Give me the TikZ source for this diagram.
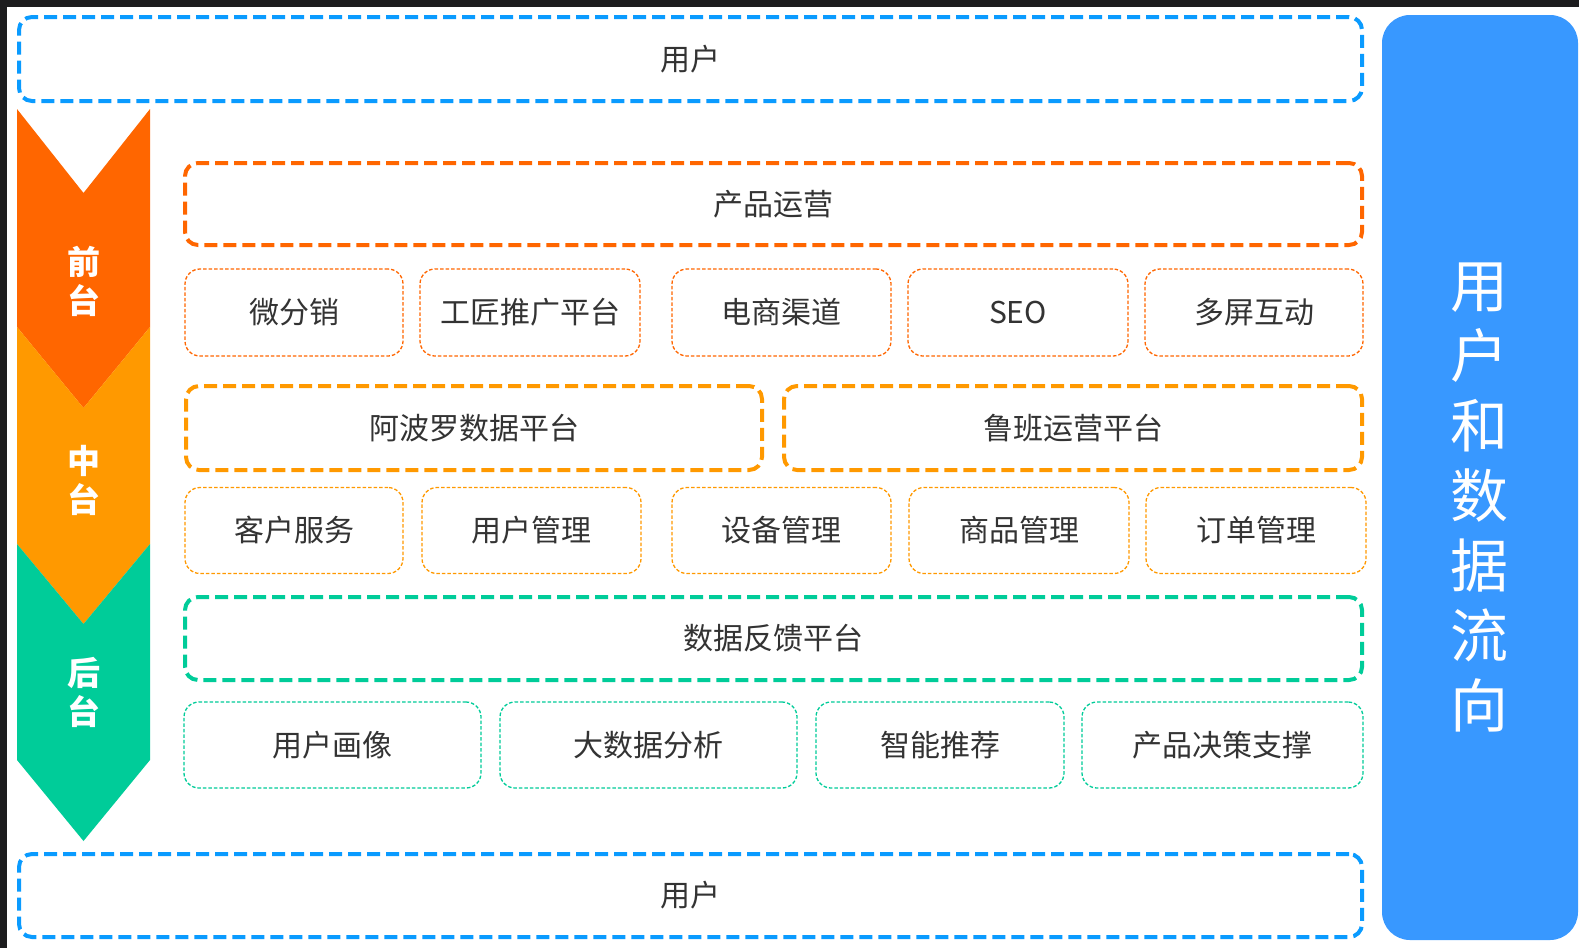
\documentclass[tikz,border=0pt]{standalone}
\usepackage{fontspec}
\setmainfont{Noto Sans CJK SC}
\definecolor{cblue}{HTML}{0A9BFF}
\definecolor{corange}{HTML}{FF6600}
\definecolor{camber}{HTML}{FF9900}
\definecolor{cgreen}{HTML}{00CC99}
\definecolor{cpanel}{HTML}{3898FF}
\definecolor{ctext}{HTML}{333333}
\definecolor{cframe}{HTML}{1C1C1E}
\begin{document}
\begin{tikzpicture}[x=1pt,y=-1pt,
  bigbox/.style={draw=#1, line width=4pt, dash pattern=on 13pt off 6pt,
    rounded corners=13pt, inner sep=0pt, text=ctext,
    font=\fontsize{30}{30}\selectfont},
  smallbox/.style={draw=#1, line width=1.3pt, dash pattern=on 3.5pt off 2pt,
    rounded corners=15pt, inner sep=0pt, text=ctext,
    font=\fontsize{30}{30}\selectfont},
  tierlabel/.style={text=white, font=\fontsize{33}{39}\selectfont\bfseries,
    align=center, inner sep=0pt},
]
\useasboundingbox (0,0) rectangle (1579,948);
% frame
\fill[cframe] (0,0) rectangle (1579,948);
\fill[white] (7,7) rectangle (1579,948);

% user boxes
\node[bigbox=cblue, minimum width=1343pt, minimum height=84pt] (userTop) at (690.5,59) {用户};
\node[bigbox=cblue, minimum width=1343pt, minimum height=83pt] (userBot) at (690.5,895.5) {用户};

% chevron arrow
\fill[corange] (17,109) -- (83.5,193) -- (150,109) -- (150,327) -- (83.5,408) -- (17,327) -- cycle;
\fill[camber] (17,327) -- (83.5,408) -- (150,327) -- (150,544) -- (83.5,624) -- (17,544) -- cycle;
\fill[cgreen] (17,544) -- (83.5,624) -- (150,544) -- (150,760) -- (83.5,841) -- (17,760) -- cycle;
\node[tierlabel] (qian) at (83.5,281) {前\\台};
\node[tierlabel] (zhong) at (83.5,480) {中\\台};
\node[tierlabel] (hou) at (83.5,692) {后\\台};

% front
\node[bigbox=corange, minimum width=1177pt, minimum height=82pt] (yunying) at (773.5,204) {产品运营};
\node[smallbox=corange, minimum width=218pt, minimum height=87pt] (f1) at (294,312.5) {微分销};
\node[smallbox=corange, minimum width=220pt, minimum height=87pt] (f2) at (530,312.5) {工匠推广平台};
\node[smallbox=corange, minimum width=219pt, minimum height=87pt] (f3) at (781.5,312.5) {电商渠道};
\node[smallbox=corange, minimum width=220pt, minimum height=87pt] (f4) at (1018,312.5) {SEO};
\node[smallbox=corange, minimum width=218pt, minimum height=87pt] (f5) at (1254,312.5) {多屏互动};

% middle
\node[bigbox=camber, minimum width=576pt, minimum height=84pt] (apollo) at (474,428) {阿波罗数据平台};
\node[bigbox=camber, minimum width=578pt, minimum height=84pt] (luban) at (1073,428) {鲁班运营平台};
\node[smallbox=camber, minimum width=218pt, minimum height=86pt] (m1) at (294,530.5) {客户服务};
\node[smallbox=camber, minimum width=219pt, minimum height=86pt] (m2) at (531.5,530.5) {用户管理};
\node[smallbox=camber, minimum width=219pt, minimum height=86pt] (m3) at (781.5,530.5) {设备管理};
\node[smallbox=camber, minimum width=220pt, minimum height=86pt] (m4) at (1019,530.5) {商品管理};
\node[smallbox=camber, minimum width=220pt, minimum height=86pt] (m5) at (1256,530.5) {订单管理};

% back
\node[bigbox=cgreen, minimum width=1177pt, minimum height=83pt] (feedback) at (773.5,638.5) {数据反馈平台};
\node[smallbox=cgreen, minimum width=297pt, minimum height=86pt] (b1) at (332.5,745) {用户画像};
\node[smallbox=cgreen, minimum width=297pt, minimum height=86pt] (b2) at (648.5,745) {大数据分析};
\node[smallbox=cgreen, minimum width=248pt, minimum height=86pt] (b3) at (940,745) {智能推荐};
\node[smallbox=cgreen, minimum width=281pt, minimum height=86pt] (b4) at (1222.5,745) {产品决策支撑};

% right panel
\fill[cpanel, rounded corners=28pt] (1382,15) rectangle (1578,940);
\node[text=white, font=\fontsize{58}{70}\selectfont, align=center, inner sep=0pt] (flow) at (1479,497) {用\\户\\和\\数\\据\\流\\向};
\end{tikzpicture}
\end{document}
